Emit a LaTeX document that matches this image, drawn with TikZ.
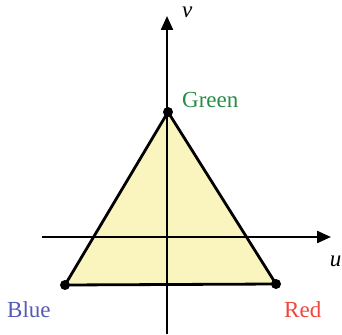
\documentclass[tikz,border=0pt]{standalone}
\usepackage{fontspec}
\setmainfont{Liberation Serif}
\usetikzlibrary{arrows.meta}
\definecolor{triFill}{RGB}{250,244,190}
\definecolor{greenLbl}{RGB}{40,140,70}
\definecolor{blueLbl}{RGB}{85,90,180}
\definecolor{redLbl}{RGB}{240,70,60}
\begin{document}
\begin{tikzpicture}[x=1pt,y=-1pt,
  axis/.style={line width=2.3pt,-{Triangle[length=14pt,width=12pt]}},
  edge/.style={line width=2.8pt,line join=round},
  vert/.style={circle,fill=black,inner sep=0pt,minimum size=10pt},
  lbl/.style={font=\fontsize{23}{26}\selectfont,inner sep=0pt}]
\useasboundingbox (0,0) rectangle (342,334);
\coordinate (G) at (168,112);
\coordinate (B) at (65,285);
\coordinate (R) at (276,284);
\fill[triFill] (G) -- (B) -- (R) -- cycle;
\coordinate (vb) at (167,334);
\coordinate (vt) at (167,16);
\coordinate (ul) at (42,237);
\coordinate (ur) at (331,237);
\draw[axis] (vb) -- (vt);
\draw[axis] (ul) -- (ur);
\draw[edge] (G) -- (B) -- (R) -- cycle;
\node[vert] (gv) at (G) {};
\node[vert] (bv) at (B) {};
\node[vert] (rv) at (R) {};
\node[lbl,text=greenLbl,anchor=west] (gl) at (182,100) {Green};
\node[lbl,text=blueLbl,anchor=west] (bl) at (7,310) {Blue};
\node[lbl,text=redLbl,anchor=west] (rl) at (284,310) {Red};
\node[lbl,anchor=west] (vl) at (182,12) {\itshape v};
\node[lbl,anchor=east] (ul2) at (341.5,261) {\itshape u};
\end{tikzpicture}
\end{document}
